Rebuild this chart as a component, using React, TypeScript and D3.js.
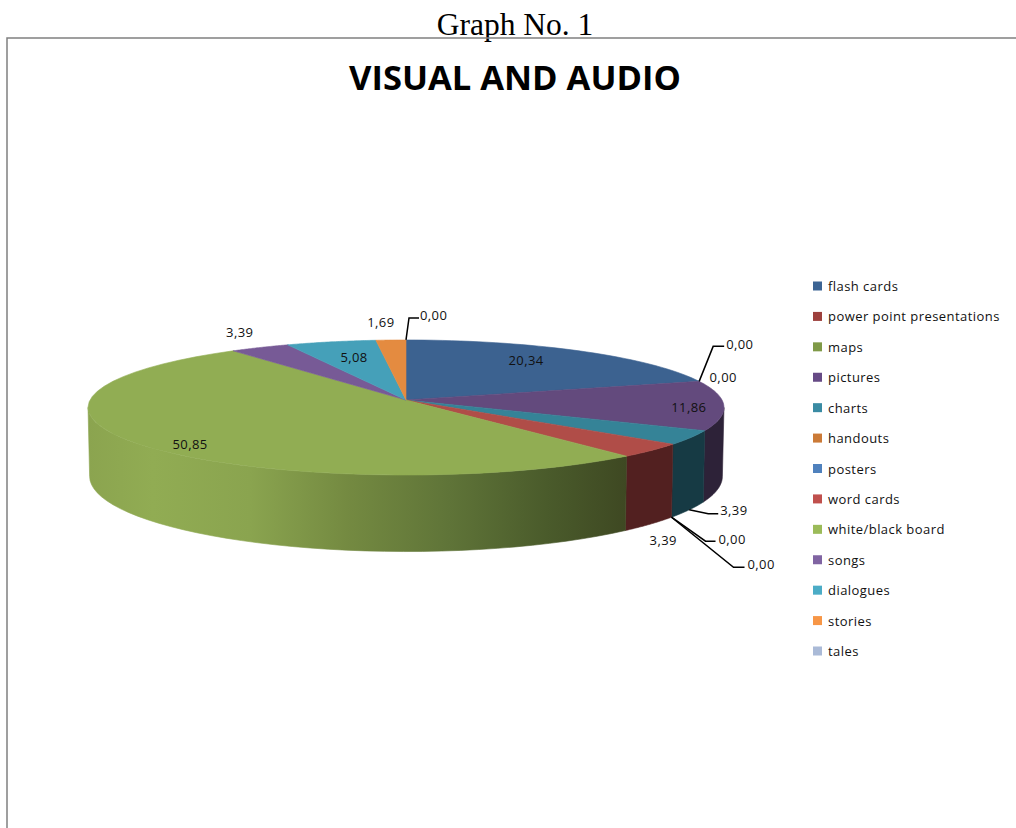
import * as d3 from "d3";

const TITLE = "VISUAL AND AUDIO";
const CAPTION = "Graph No. 1";

const categories = [
  "flash cards",
  "power point presentations",
  "maps",
  "pictures",
  "charts",
  "handouts",
  "posters",
  "word cards",
  "white/black board",
  "songs",
  "dialogues",
  "stories",
  "tales",
];
const values = [20.34, 0, 0, 11.86, 3.39, 0, 0, 3.39, 50.85, 3.39, 5.08, 1.69, 0];

const legendColors = [
  "#3c6494", "#9d403d", "#7f9a48", "#664a85", "#3a8ba3", "#cb7a37", "#4f81bd",
  "#c0504d", "#9bbb59", "#8064a2", "#4bacc6", "#f79646", "#aabad7",
];
const topColors = [
  "#3c6290", "#9d403d", "#7f9a48", "#634a7d", "#358397", "#cb7a37", "#4f81bd",
  "#b04d48", "#91ad53", "#775a96", "#45a0b9", "#e48b40", "#aabad7",
];
const wallColors: Record<number, string> = { 3: "#2d2238", 4: "#163a44", 7: "#522020", 8: "url(#wallGreen)" };

// where each value label sits, relative to its slice's rim point
// rim "top" = top face edge, "bottom" = lower edge of the side wall
const labelLayout = [
  { rim: "top", dx: -53, dy: 10, anchor: "middle" },
  { rim: "top", dx: 27, dy: -37, anchor: "start", leader: [[14, -35], [25, -35]] },
  { rim: "top", dx: 24, dy: -4, anchor: "middle" },
  { rim: "top", dx: -35, dy: 2, anchor: "middle" },
  { rim: "bottom", dx: 31, dy: 1, anchor: "start", leader: [[19, 4], [29, 4]] },
  { rim: "bottom", dx: 47, dy: 22, anchor: "start", leader: [[34, 24], [44, 24]] },
  { rim: "bottom", dx: 76, dy: 47, anchor: "start", leader: [[62, 50], [73, 50]] },
  { rim: "bottom", dx: 13, dy: 16, anchor: "middle" },
  { rim: "top", dx: 51, dy: 0, anchor: "middle" },
  { rim: "top", dx: -20, dy: -15, anchor: "middle" },
  { rim: "top", dx: 23, dy: 16, anchor: "middle" },
  { rim: "top", dx: -10, dy: -18, anchor: "middle" },
  { rim: "top", dx: 14, dy: -25, anchor: "start", leader: [[3, -22], [13, -22]] },
];

const WIDTH = 1016;
const HEIGHT = 828;
const CX = 406;
const CY = 400;
const RX = 316;
const RY = 66.7;
const DEPTH = 68;
const PERSPECTIVE = 1 / 9;
const BOTTOM_SHRINK = 0.995;
const LABEL_FONT = "'Open Sans', sans-serif";

// circle on the table -> screen, nearer points get bigger
const project = (angle: number, lower = false): [number, number] => {
  const u = Math.sin(angle);
  const v = Math.cos(angle);
  const w = 1 + PERSPECTIVE * v;
  const x = (RX * u) / w;
  const y = CY - (RY * v) / w;
  return lower ? [CX + x * BOTTOM_SHRINK, y + DEPTH / w] : [CX + x, y];
};

const samples = (a0: number, a1: number) => d3.range(0, 41).map((i) => a0 + ((a1 - a0) * i) / 40);
const line = d3.line();

const slicePath = (a0: number, a1: number) =>
  line([[CX, CY], ...samples(a0, a1).map((a) => project(a))]) + "Z";

const wallPath = (a0: number, a1: number) => {
  const top = samples(a0, a1).map((a) => project(a));
  const bottom = samples(a0, a1).map((a) => project(a, true)).reverse();
  return line([...top, ...bottom]) + "Z";
};

// the wall is seen only between the two horizontal extremes of the ellipse
const WALL_START = Math.PI - Math.acos(PERSPECTIVE);
const WALL_END = Math.PI + Math.acos(PERSPECTIVE);

export default function App() {
  const arcs = d3
    .pie<number>()
    .sort(null)
    .startAngle(0)
    .endAngle(2 * Math.PI)(values);

  const legendY = d3.scaleLinear().domain([0, categories.length - 1]).range([286, 651]);

  return (
    <svg
      width={WIDTH}
      height={HEIGHT}
      style={{ position: "absolute", left: 0, top: 0, background: "#fff" }}
    >
      <defs>
        <linearGradient id="wallGreen" gradientUnits="userSpaceOnUse" x1={88} x2={628} y1={0} y2={0}>
          <stop offset="0" stopColor="#8ba44f" />
          <stop offset="0.12" stopColor="#91ac53" />
          <stop offset="0.3" stopColor="#8aa44f" />
          <stop offset="0.48" stopColor="#748a41" />
          <stop offset="0.67" stopColor="#5f7438" />
          <stop offset="0.85" stopColor="#4a5b2b" />
          <stop offset="1" stopColor="#3e4822" />
        </linearGradient>
      </defs>

      <text x={515} y={35} textAnchor="middle" fontFamily="'Liberation Serif', serif" fontSize={31.5}>
        {CAPTION}
      </text>
      <path d={`M1016,38H7V828`} fill="none" stroke="#808080" strokeWidth={1.5} />
      <text
        x={515}
        y={90}
        textAnchor="middle"
        fontFamily={LABEL_FONT}
        fontWeight={700}
        fontSize={34.5}
        fill="#000"
      >
        {TITLE}
      </text>

      {arcs.map((d, i) => {
        const a0 = Math.max(d.startAngle, WALL_START);
        const a1 = Math.min(d.endAngle, WALL_END);
        if (a1 <= a0 || !wallColors[i]) return null;
        return <path key={i} d={wallPath(a0, a1)} fill={wallColors[i]} stroke={wallColors[i]} strokeWidth={0.6} />;
      })}
      {arcs.map((d, i) =>
        d.endAngle > d.startAngle ? (
          <path
            key={i}
            d={slicePath(d.startAngle, d.endAngle)}
            fill={topColors[i]}
            stroke={topColors[i]}
            strokeWidth={0.6}
          />
        ) : null,
      )}

      {arcs.map((d, i) => {
        const lay = labelLayout[i];
        const mid = (d.startAngle + d.endAngle) / 2;
        const [x, y] = project(mid, lay.rim === "bottom");
        return (
          <g key={i}>
            {lay.leader && (
              <path
                d={line([[x, y], ...lay.leader.map(([dx, dy]) => [x + dx, y + dy] as [number, number])]) ?? ""}
                fill="none"
                stroke="#000"
                strokeWidth={1.5}
              />
            )}
            <text
              x={x + lay.dx}
              y={y + lay.dy}
              dy="0.35em"
              textAnchor={lay.anchor}
              fontFamily={LABEL_FONT}
              fontSize={13}
              letterSpacing={0.4}
              fill="#111"
            >
              {d3.format(".2f")(values[i]).replace(".", ",")}
            </text>
          </g>
        );
      })}

      {categories.map((c, i) => (
        <g key={c} transform={`translate(813,${legendY(i)})`}>
          <rect x={0} y={-4.5} width={9} height={9} fill={legendColors[i]} />
          <text x={15} y={0.5} dy="0.35em" fontFamily={LABEL_FONT} fontSize={13} letterSpacing={0.45} fill="#111">
            {c}
          </text>
        </g>
      ))}
    </svg>
  );
}
